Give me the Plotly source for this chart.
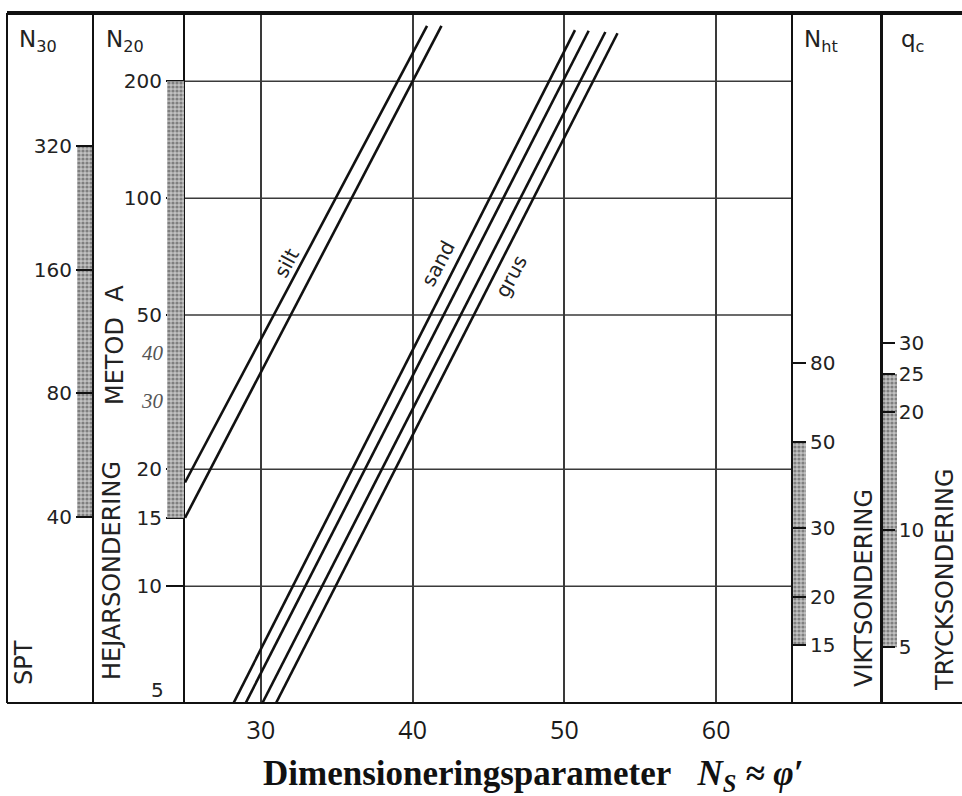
import math
import plotly.graph_objects as go

# ---------------- data ----------------
ns_ticks = [30, 40, 50, 60]
n20_ticks = [10, 15, 20, 50, 100, 200]
n20_bottom_tick = 5
n20_hand_ticks = [30, 40]
n20_grid = [10, 20, 50, 100, 200]
n30_ticks = [40, 80, 160, 320]
nht_ticks = [15, 20, 30, 50, 80]
qc_ticks = [5, 10, 20, 25, 30]

silt_lo_ns = [25.0, 41.9]
silt_lo_n20 = [15, 278]
silt_hi_ns = [25.0, 40.95]
silt_hi_n20 = [18.5, 278]
sand1_ns = [28.2, 50.7]
sand1_n20 = [5.0, 271]
sand2_ns = [29.0, 51.6]
sand2_n20 = [5.0, 270]
grus1_ns = [30.1, 52.7]
grus1_n20 = [5.0, 268]
grus2_ns = [31.0, 53.5]
grus2_n20 = [5.0, 266]

n30_band = [40, 320]
n20_band = [15, 200]
nht_band = [15, 50]
qc_band = [5, 25]

ns_range = [25, 65]

# ---------------- layout helpers ----------------
W, H = 962, 796
TOP, BOT = 13, 703
PH = BOT - TOP


def px(x):
    return x / W


def py(y):
    return (BOT - y) / PH


LINE = "#111111"
TICKFONT = dict(family="DejaVu Sans", size=20, color="#222222")

fig = go.Figure()

# horizontal grid lines (N20 scale)
for g in n20_grid:
    fig.add_trace(go.Scatter(x=ns_range, y=[g, g], mode="lines",
                             line=dict(color="#3a3a3a", width=1.5),
                             hoverinfo="skip", showlegend=False,
                             xaxis="x", yaxis="y"))

# shaded bands
pattern = dict(shape=".", fgcolor="#3c3c3c", bgcolor="#c2c2c2", size=4, solidity=0.5)


def band(lo_hi, xa, ya):
    fig.add_trace(go.Bar(x=[0.5], y=[lo_hi[1] - lo_hi[0]], base=[lo_hi[0]], width=[1.0],
                         marker=dict(color="#c2c2c2", pattern=pattern, line=dict(width=0)),
                         hoverinfo="skip", showlegend=False, xaxis=xa, yaxis=ya))


band(n30_band, "x2", "y2")
band(n20_band, "x3", "y")
band(nht_band, "x4", "y3")
band(qc_band, "x5", "y4")

# diagonal lines
for xs, ys in [(silt_lo_ns, silt_lo_n20), (silt_hi_ns, silt_hi_n20),
               (sand1_ns, sand1_n20), (sand2_ns, sand2_n20),
               (grus1_ns, grus1_n20), (grus2_ns, grus2_n20)]:
    fig.add_trace(go.Scatter(x=xs, y=ys, mode="lines",
                             line=dict(color=LINE, width=2.6),
                             hoverinfo="skip", showlegend=False,
                             xaxis="x", yaxis="y"))

hidden_x = dict(visible=False, range=[0, 1], fixedrange=True)

fig.update_layout(
    width=W, height=H,
    margin=dict(l=0, r=0, t=TOP, b=H - BOT),
    paper_bgcolor="white", plot_bgcolor="rgba(0,0,0,0)",
    showlegend=False,
    barmode="overlay",
    xaxis=dict(domain=[px(185), px(792)], range=ns_range,
               tickvals=ns_ticks, ticks="", showline=False, zeroline=False,
               showgrid=True, gridcolor="#3a3a3a", gridwidth=2,
               tickfont=dict(family="Open Sans", size=25, color="#1a1a1a"),
               ticklabelstandoff=10),
    xaxis2=dict(domain=[px(77), px(92)], anchor="y2", **hidden_x),
    xaxis3=dict(domain=[px(167), px(184)], anchor="y", **hidden_x),
    xaxis4=dict(domain=[px(793), px(806)], anchor="y3", **hidden_x),
    xaxis5=dict(domain=[px(882), px(897)], anchor="y4", **hidden_x),
    yaxis=dict(type="log", domain=[0, 1], anchor="x", side="left",
               range=[math.log10(5), math.log10(300)],
               tickvals=n20_ticks, ticktext=[str(v) for v in n20_ticks],
               ticks="outside", ticklen=17, tickwidth=2, tickcolor=LINE,
               showline=True, linewidth=2, linecolor=LINE,
               showgrid=False, zeroline=False, tickfont=TICKFONT),
    yaxis2=dict(type="log", domain=[0, 1], anchor="free", position=px(93), side="left",
                range=[1.149, 2.829],
                tickvals=n30_ticks, ticktext=[str(v) for v in n30_ticks],
                ticks="outside", ticklen=16, tickwidth=2, tickcolor=LINE,
                showline=True, linewidth=2, linecolor=LINE,
                showgrid=False, zeroline=False, tickfont=TICKFONT),
    yaxis3=dict(type="log", domain=[0, 1], anchor="free", position=px(792), side="right",
                range=[1.027, 2.805],
                tickvals=nht_ticks, ticktext=[str(v) for v in nht_ticks],
                ticks="outside", ticklen=13, tickwidth=2, tickcolor=LINE,
                showline=True, linewidth=2, linecolor=LINE,
                showgrid=False, zeroline=False, tickfont=TICKFONT),
    yaxis4=dict(type="log", domain=[0, 1], anchor="free", position=px(881), side="right",
                range=[0.556, 2.322],
                tickvals=qc_ticks, ticktext=[str(v) for v in qc_ticks],
                ticks="outside", ticklen=12, tickwidth=2, tickcolor=LINE,
                showline=True, linewidth=2.5, linecolor=LINE,
                showgrid=False, zeroline=False, tickfont=TICKFONT),
)

# frame
fig.add_shape(type="line", xref="paper", yref="paper", x0=px(7), x1=1, y0=1, y1=1,
              line=dict(color=LINE, width=4))
fig.add_shape(type="line", xref="paper", yref="paper", x0=px(7), x1=1, y0=0, y1=0,
              line=dict(color=LINE, width=2))
fig.add_shape(type="line", xref="paper", yref="paper", x0=px(7), x1=px(7), y0=0, y1=1,
              line=dict(color=LINE, width=2))

ann = []
# bottom N20 value, drawn just above the frame
ann.append(dict(x=px(166), y=math.log10(n20_bottom_tick), xref="paper", yref="y",
                text=str(n20_bottom_tick), showarrow=False, xanchor="right", yanchor="bottom",
                yshift=-1, font=TICKFONT))
# handwritten N20 values
for v in n20_hand_ticks:
    ann.append(dict(x=px(166), y=math.log10(v), xref="paper", yref="y",
                    text=f"<i>{v}</i>", showarrow=False, xanchor="right", yanchor="middle",
                    font=dict(family="Liberation Serif", size=21, color="#555555")))

hdr_font = dict(family="DejaVu Sans", size=23, color="#222222")
for txt, x0 in [("N<sub>30</sub>", 17), ("N<sub>20</sub>", 104),
                ("N<sub>ht</sub>", 802), ("q<sub>c</sub>", 899)]:
    ann.append(dict(x=px(x0), y=py(41), xref="paper", yref="paper", text=txt,
                    showarrow=False, xanchor="left", yanchor="middle", font=hdr_font))

rot_font = dict(family="DejaVu Sans", size=24, color="#222222")
for txt, cx, cy in [("SPT", 24, 663), ("HEJARSONDERING", 112, 571),
                    ("METOD\u00a0\u00a0A", 115, 345), ("VIKTSONDERING", 864, 588),
                    ("TRYCKSONDERING", 945, 580)]:
    ann.append(dict(x=px(cx), y=py(cy), xref="paper", yref="paper", text=txt,
                    showarrow=False, textangle=-90, xanchor="center", yanchor="middle",
                    font=rot_font))

lbl_font = dict(family="DejaVu Sans", size=20, color="#222222")
for txt, xv, nv in [("silt", 31.7, 68), ("sand", 41.7, 68), ("grus", 46.5, 63)]:
    ann.append(dict(x=xv, y=math.log10(nv), xref="x", yref="y", text=txt,
                    showarrow=False, textangle=-62, xanchor="center", yanchor="middle",
                    font=lbl_font))

ann.append(dict(x=px(533), y=py(775), xref="paper", yref="paper",
                text="<b>Dimensioneringsparameter</b>\u00a0\u00a0\u00a0<b><i>N<sub>S</sub> \u2248 \u03c6\u2032</i></b>",
                showarrow=False, xanchor="center", yanchor="middle",
                font=dict(family="Liberation Serif", size=35, color="#111111")))

fig.update_layout(annotations=ann)

fig.write_html("out.html")
